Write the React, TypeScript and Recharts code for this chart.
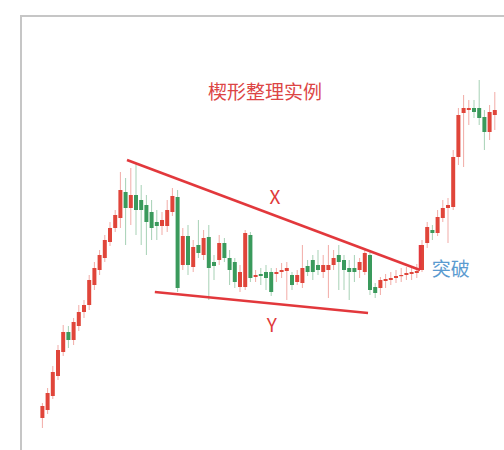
import { ComposedChart, Bar, XAxis, YAxis, ReferenceLine, ReferenceDot } from 'recharts'

// price units are arbitrary (0 at the bottom edge, 45 at the top)
const opens = [
  3.2, 4.0, 5.4, 7.4, 9.8, 11.8, 11.0, 12.4, 13.8, 14.5, 16.5, 18.0, 19.2, 20.8, 22.2,
  23.2, 25.8, 24.2, 25.5, 25.0, 24.5, 23.8, 22.8, 22.4, 22.4, 23.8, 25.3, 18.5, 21.4, 18.3,
  20.5, 19.5, 21.3, 18.8, 19.0, 20.7, 19.2, 18.8, 16.3, 16.3, 21.5, 17.3, 17.6, 17.8, 17.8,
  17.6, 17.8, 17.9, 17.5, 16.8, 16.7, 18.4, 19.0, 18.5, 17.8, 18.0, 18.5, 19.5, 19.0, 18.2,
  18.2, 18.0, 17.8, 19.5, 16.3, 16.2, 16.9, 17.0, 17.2, 17.4, 17.5, 17.6, 17.7, 18.0, 20.7,
  22.0, 21.7, 23.2, 24.2, 24.3, 29.3, 33.7, 34.0, 34.2, 34.2, 33.3, 31.8, 33.5,
]
const closes = [
  4.4, 5.7, 7.8, 10.0, 11.8, 11.0, 12.8, 13.8, 14.5, 17.0, 18.2, 19.5, 21.0, 22.2, 23.5,
  26.0, 24.2, 25.5, 24.0, 24.0, 22.8, 22.2, 22.4, 23.0, 24.0, 25.4, 16.2, 21.4, 18.5, 20.3,
  19.7, 21.2, 18.2, 18.4, 20.7, 19.2, 18.0, 16.8, 17.8, 21.7, 17.2, 17.5, 17.4, 17.2, 15.8,
  17.8, 18.0, 18.2, 16.5, 17.5, 18.2, 17.8, 17.8, 18.0, 18.5, 18.5, 19.2, 18.8, 18.0, 17.8,
  17.8, 18.8, 19.7, 16.0, 15.7, 17.0, 17.1, 17.2, 17.4, 17.5, 17.7, 17.8, 17.9, 20.5, 22.3,
  21.7, 23.3, 24.2, 24.5, 29.3, 33.5, 34.2, 34.2, 33.8, 33.2, 31.8, 33.8, 34.0,
]
const highs = [
  4.7, 6.2, 8.4, 10.5, 12.5, 12.4, 13.2, 14.5, 15.0, 17.5, 18.8, 20.0, 21.5, 22.8, 24.0,
  27.8, 27.2, 28.2, 28.7, 26.5, 25.5, 25.0, 24.0, 23.8, 25.0, 26.2, 26.0, 22.2, 22.5, 21.0,
  23.0, 22.0, 22.5, 19.5, 21.5, 21.2, 20.0, 19.2, 18.5, 22.0, 21.8, 18.0, 18.2, 18.5, 18.2,
  18.2, 18.7, 18.8, 17.8, 18.0, 20.5, 19.0, 19.5, 20.0, 19.5, 20.5, 20.0, 20.5, 19.5, 19.0,
  19.5, 19.2, 20.2, 19.8, 16.7, 17.3, 17.6, 17.8, 18.0, 18.2, 18.3, 18.4, 18.6, 21.0, 22.8,
  22.5, 24.0, 25.0, 25.2, 30.0, 34.2, 35.5, 35.0, 35.0, 37.0, 34.0, 34.5, 35.8,
]
const lows = [
  2.2, 3.6, 5.1, 7.0, 9.4, 10.2, 10.5, 11.9, 13.2, 14.0, 16.0, 17.5, 18.8, 20.4, 21.8,
  22.2, 20.5, 22.5, 21.5, 20.5, 19.5, 21.0, 21.0, 21.5, 21.8, 23.4, 15.8, 18.0, 17.5, 17.8,
  19.2, 19.0, 15.0, 17.0, 18.5, 18.8, 16.5, 16.2, 15.8, 16.0, 16.8, 16.8, 16.5, 16.0, 15.4,
  16.8, 17.2, 15.0, 16.0, 16.5, 16.2, 17.4, 17.0, 17.5, 17.2, 15.2, 18.0, 16.0, 16.0, 15.0,
  16.8, 17.2, 17.5, 15.5, 15.2, 15.5, 16.2, 16.5, 16.7, 16.8, 17.0, 17.0, 17.2, 17.8, 20.2,
  21.0, 21.4, 22.8, 20.7, 24.0, 28.5, 28.3, 32.5, 33.2, 32.5, 30.0, 31.0, 32.0,
]

// wedge boundaries and breakout, in candle-index / price units
const upperLine = [{ x: 16.35, y: 29.0 }, { x: 72.7, y: 18.0 }]
const lowerLine = [{ x: 21.7, y: 15.8 }, { x: 62.7, y: 13.7 }]
const breakLine = [{ x: 72.7, y: 18.0 }, { x: 72.7, y: 20.5 }]

const title = '楔形整理实例'
const notes = [
  { x: 42.9, y: 35.8, text: title, color: '#dc4545' },
  { x: 44.8, y: 25.3, text: 'X', color: '#e03a3a' },
  { x: 44.2, y: 12.5, text: 'Y', color: '#e03a3a' },
  { x: 78.6, y: 18.1, text: '突破', color: '#5b9bd0' },
]

const RED = '#e0453a'
const GREEN = '#3a9a5c'
const LINE = '#e2383c'

const data = opens.map((o, i) => ({
  idx: i, open: o, close: closes[i], high: highs[i], low: lows[i],
}))

// eslint-disable-next-line @typescript-eslint/no-explicit-any
function Candle(props: any) {
  const { x, y, width, height, payload } = props
  const { open, close, high, low } = payload
  const h = Math.abs(height)
  const top = Math.min(y, y + height)
  const k = high - low ? h / (high - low) : 0
  const color = close >= open ? RED : GREEN
  const bodyTop = top + (high - Math.max(open, close)) * k
  const bodyH = Math.max(1.2, Math.abs(open - close) * k)
  const cx = x + width / 2
  return (
    <g>
      <line x1={cx} x2={cx} y1={top} y2={top + h} stroke={color} strokeOpacity={0.45} strokeWidth={1} />
      <rect x={x} y={bodyTop} width={width} height={bodyH} fill={color} />
    </g>
  )
}

export default function App() {
  return (
    <div style={{
      position: 'absolute', left: 0, top: 0, width: 504, height: 450,
      background: '#fff', overflow: 'hidden',
      fontFamily: "'Noto Sans CJK SC', 'Noto Sans', sans-serif",
    }}>
      <div style={{
        position: 'absolute', left: 20, top: 15, width: 600, height: 600,
        borderLeft: '2px solid #c6c6c6', borderTop: '2px solid #c6c6c6',
      }} />
      <div style={{ position: 'absolute', left: 0, top: 0 }}>
        <ComposedChart width={504} height={450} data={data}
          margin={{ top: 0, right: 7, left: 39.4, bottom: 0 }}>
          <XAxis xAxisId="c" dataKey="idx" type="category" hide />
          <XAxis xAxisId="n" dataKey="idx" type="number" domain={[-0.5, 87.5]} allowDataOverflow hide />
          <YAxis domain={[0, 45]} allowDataOverflow hide />
          <Bar xAxisId="c" dataKey={(d: { low: number; high: number }) => [d.low, d.high]}
            barSize={4} shape={<Candle />} isAnimationActive={false} />
          {[upperLine, lowerLine, breakLine].map((seg, i) => (
            <ReferenceLine key={i} xAxisId="n" segment={seg} stroke={LINE} strokeWidth={2.6} ifOverflow="visible" />
          ))}
          {notes.map(n => (
            <ReferenceDot key={n.text} xAxisId="n" x={n.x} y={n.y} r={0} fill="none" stroke="none"
              ifOverflow="visible"
              label={{ value: n.text, position: 'center', fill: n.color, fontSize: 19 }} />
          ))}
        </ComposedChart>
      </div>
    </div>
  )
}
